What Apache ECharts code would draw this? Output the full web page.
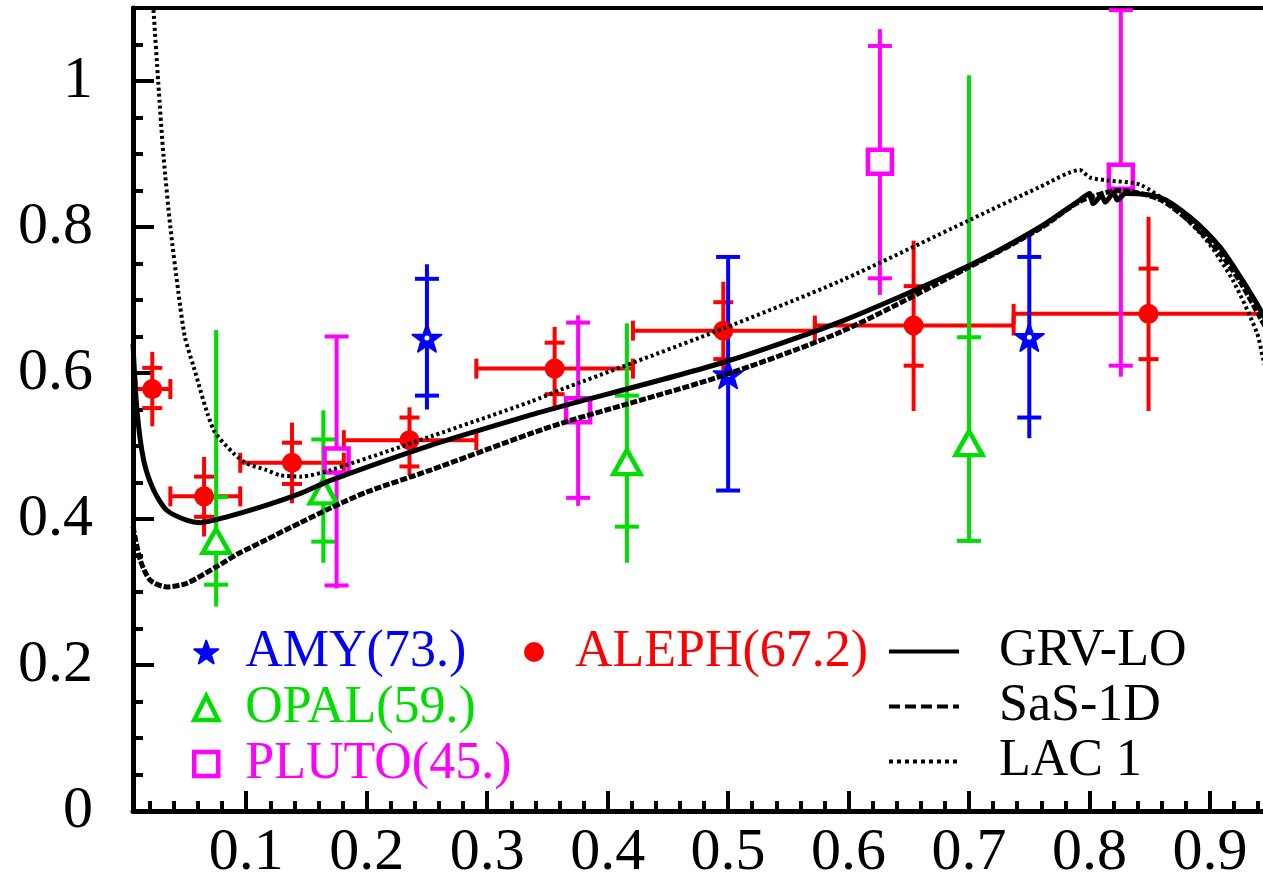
<!DOCTYPE html>
<html><head><meta charset="utf-8">
<script src="https://cdn.jsdelivr.net/npm/echarts@6/dist/echarts.min.js"></script>
<style>html,body{margin:0;padding:0;background:#fff}#c{width:1263px;height:893px}</style>
</head><body><div id="c"></div>
<script>
// ---------- tick labels ----------
const xMajorTicks = [0.1,0.2,0.3,0.4,0.5,0.6,0.7,0.8,0.9];
const xMinorTicks = [0.02,0.04,0.06,0.08,0.12,0.14,0.16,0.18,0.22,0.24,0.26,0.28,0.32,0.34,0.36,0.38,0.42,0.44,0.46,0.48,0.52,0.54,0.56,0.58,0.62,0.64,0.66,0.68,0.72,0.74,0.76,0.78,0.82,0.84,0.86,0.88,0.92,0.94];
const yMajorTicks = [0,0.2,0.4,0.6,0.8,1];
const yTickLabels = ['0','0.2','0.4','0.6','0.8','1'];
const yMinorTicks = [0.05,0.1,0.15,0.25,0.3,0.35,0.45,0.5,0.55,0.65,0.7,0.75,0.85,0.9,0.95,1.05];

// ---------- ALEPH(67.2) ----------
const alephX    = [0.022,0.065,0.138,0.2355,0.356,0.496,0.654,0.849];
const alephY    = [0.578,0.431,0.477,0.508,0.606,0.658,0.665,0.681];
const alephXLo  = [0.008,0.037,0.095,0.181,0.291,0.421,0.572,0.737];
const alephXHi  = [0.037,0.095,0.181,0.291,0.421,0.572,0.737,0.96];
const alephStatLo = [0.552,0.403,0.448,0.472,0.571,0.619,0.610,0.619];
const alephStatHi = [0.607,0.458,0.5045,0.539,0.6415,0.697,0.719,0.743];
const alephTotLo  = [0.527,0.376,0.4215,0.460,0.554,0.591,0.548,0.548];
const alephTotHi  = [0.629,0.485,0.532,0.553,0.663,0.725,0.781,0.814];

// ---------- AMY(73.) ----------
const amyX = [0.25,0.50,0.75];
const amyY = [0.648,0.598,0.649];
const amyStatLo = [0.569,0.439,0.539];
const amyStatHi = [0.729,0.759,0.759];
const amyTotLo  = [0.550,0.439,0.5105];
const amyTotHi  = [0.749,0.759,0.788];

// ---------- OPAL(59.) ----------
const opalX = [0.075,0.164,0.416,0.70];
const opalY = [0.370,0.438,0.478,0.504];
const opalStatLo = [0.310,0.369,0.3895,0.370];
const opalStatHi = [0.430,0.509,0.569,0.649];
const opalTotLo  = [0.280,0.340,0.340,0.370];
const opalTotHi  = [0.659,0.549,0.668,1.008];

// ---------- PLUTO(45.) ----------
const plutoX = [0.175,0.3755,0.626,0.826];
const plutoY = [0.480,0.549,0.8895,0.869];
const plutoStatLo = [0.309,0.429,0.7297,0.610];
const plutoStatHi = [0.650,0.669,1.048,1.097];
const plutoTotLo  = [0.305,0.418,0.707,0.595];
const plutoTotHi  = [0.651,0.679,1.071,1.097];

// ---------- curves ----------
const grvX = [0.006,0.0093,0.0148,0.023,0.034,0.051,0.062,0.084,0.117,0.145,0.17,0.253,0.336,0.361,0.493,0.593,0.701,0.759,0.792,0.800,0.803,0.810,0.813,0.820,0.823,0.830,0.858,0.883,0.908,0.925,0.942,0.96];
const grvY = [0.64,0.549,0.481,0.44,0.412,0.398,0.395,0.403,0.419,0.435,0.453,0.501,0.5425,0.554,0.613,0.67,0.748,0.80,0.837,0.846,0.832,0.843,0.834,0.847,0.837,0.846,0.841,0.814,0.773,0.732,0.686,0.63];
const sasX = [0.006,0.012,0.0203,0.034,0.0508,0.0757,0.093,0.117,0.145,0.17,0.2,0.253,0.336,0.369,0.493,0.593,0.70,0.759,0.792,0.825,0.858,0.883,0.908,0.925,0.942,0.96];
const sasY = [0.39,0.344,0.316,0.307,0.312,0.335,0.352,0.372,0.395,0.415,0.437,0.467,0.517,0.535,0.595,0.656,0.745,0.798,0.835,0.85,0.838,0.808,0.765,0.725,0.675,0.62];
const lacX = [0.0215,0.023,0.027,0.0314,0.037,0.0438,0.049,0.0563,0.0729,0.0895,0.1006,0.117,0.128,0.145,0.17,0.253,0.336,0.361,0.493,0.593,0.701,0.759,0.792,0.800,0.814,0.842,0.869,0.897,0.919,0.939,0.944,0.96];
const lacY = [1.13,1.097,0.997,0.896,0.80,0.709,0.65,0.6087,0.522,0.49,0.476,0.467,0.46,0.458,0.467,0.513,0.5607,0.577,0.659,0.726,0.81,0.855,0.878,0.868,0.864,0.858,0.828,0.782,0.727,0.655,0.62,0.52];

// ---------- styling ----------
const FONT = "'Liberation Serif','Times New Roman',serif";
const RED='#ff0000', BLUE='#0000ff', GREEN='#00dd00', MAG='#ff00ff';
const STAR = 'path://M50,0L61.76,33.82L97.55,34.55L69.02,56.18L79.39,90.45L50,70L20.61,90.45L30.98,56.18L2.45,34.55L38.24,33.82Z';

function zip(xs, ys){ return xs.map((x,i)=>[x, ys[i]]); }

function errSeries(name, color, xs, ys, sLo, sHi, tLo, tHi, xLo, xHi, o){
  const data = xs.map((x,i)=>[x, ys[i], sLo[i], sHi[i], tLo[i], tHi[i], xLo?xLo[i]:x, xHi?xHi[i]:x]);
  return {
    type:'custom', name:name, clip:true, z:2, silent:true,
    encode:{x:0, y:1},
    data:data,
    renderItem:function(params, api){
      const x = api.value(0), y = api.value(1);
      const p = api.coord([x,y]);
      const sl = api.coord([x, api.value(2)]), sh = api.coord([x, api.value(3)]);
      const tl = api.coord([x, api.value(4)]), th = api.coord([x, api.value(5)]);
      const st = {stroke:color, lineWidth:o.lw, fill:null};
      const ch = [];
      const L = (x1,y1,x2,y2)=>ch.push({type:'line', shape:{x1,y1,x2,y2}, style:st});
      if (o.gap > 0){
        if (th[1] < p[1]-o.gap) L(p[0], th[1], p[0], p[1]-o.gap);
        if (tl[1] > p[1]+o.gap) L(p[0], p[1]+o.gap, p[0], tl[1]);
      } else {
        L(p[0], th[1], p[0], tl[1]);
      }
      L(p[0]-o.cw, sl[1], p[0]+o.cw, sl[1]);
      L(p[0]-o.cw, sh[1], p[0]+o.cw, sh[1]);
      if (o.horiz){
        const l = api.coord([api.value(6), y]), r = api.coord([api.value(7), y]);
        L(l[0], p[1], r[0], p[1]);
        L(l[0], p[1]-o.ch, l[0], p[1]+o.ch);
        L(r[0], p[1]-o.ch, r[0], p[1]+o.ch);
      }
      return {type:'group', children:ch};
    }
  };
}

const chart = echarts.init(document.getElementById('c'), null, {renderer:'canvas'});
const XMIN = 0.006, XMAX = 0.944;
const hidden = {color:'rgba(0,0,0,0)', borderColor:'rgba(0,0,0,0)', borderWidth:0, opacity:0};

const option = {
  animation:false,
  backgroundColor:'#fff',
  grid:{left:133, top:8, right:0, bottom:82, containLabel:false},
  xAxis:[
    {type:'value', min:XMIN, max:XMAX, position:'bottom',
     axisLine:{show:true, lineStyle:{color:'#000', width:5}},
     axisTick:{show:true, inside:true, length:20, lineStyle:{color:'#000', width:4}, customValues:xMajorTicks},
     axisLabel:{show:true, customValues:xMajorTicks, margin:12, fontSize:60, fontFamily:FONT, color:'#000',
                formatter:(v)=>v.toFixed(1)},
     splitLine:{show:false}},
    {type:'value', min:XMIN, max:XMAX, position:'bottom',
     axisLine:{show:false},
     axisTick:{show:true, inside:true, length:10, lineStyle:{color:'#000', width:4}, customValues:xMinorTicks},
     axisLabel:{show:false}, splitLine:{show:false}},
    {type:'value', min:XMIN, max:XMAX, position:'top',
     axisLine:{show:true, lineStyle:{color:'#000', width:4}},
     axisTick:{show:false}, axisLabel:{show:false}, splitLine:{show:false}}
  ],
  yAxis:[
    {type:'value', min:0, max:1.1, position:'left',
     axisLine:{show:true, lineStyle:{color:'#000', width:5}},
     axisTick:{show:true, inside:true, length:21, lineStyle:{color:'#000', width:4}, customValues:yMajorTicks},
     axisLabel:{show:true, customValues:yMajorTicks, margin:40, fontSize:60, fontFamily:FONT, color:'#000',
                formatter:(v)=>{const i=yMajorTicks.indexOf(v); return i>=0?yTickLabels[i]:String(v);}},
     splitLine:{show:false}},
    {type:'value', min:0, max:1.1, position:'left',
     axisLine:{show:false},
     axisTick:{show:true, inside:true, length:10, lineStyle:{color:'#000', width:4}, customValues:yMinorTicks},
     axisLabel:{show:false}, splitLine:{show:false}}
  ],
  legend:[
    {orient:'vertical', left:192, top:624, padding:0, itemGap:0, itemWidth:24, itemHeight:24, selectedMode:false,
     textStyle:{fontSize:52, lineHeight:56, fontFamily:FONT, padding:[0,0,0,22]},
     data:[{name:'AMY(73.)', textStyle:{color:BLUE}},
           {name:'OPAL(59.)', textStyle:{color:GREEN}, itemStyle:{color:'rgba(255,255,255,0)', borderColor:GREEN, borderWidth:4.5}},
           {name:'PLUTO(45.)', textStyle:{color:MAG}, itemStyle:{color:'rgba(255,255,255,0)', borderColor:MAG, borderWidth:4.5}}]},
    {orient:'vertical', left:524, top:624, padding:0, itemGap:0, itemWidth:20, itemHeight:20, selectedMode:false,
     textStyle:{fontSize:52, lineHeight:56, fontFamily:FONT, padding:[0,0,0,26]},
     data:[{name:'ALEPH(67.2)', textStyle:{color:RED}}]},
    {orient:'vertical', left:887, top:624, padding:0, itemGap:0, itemWidth:70, itemHeight:14, selectedMode:false,
     textStyle:{fontSize:52, lineHeight:55, fontFamily:FONT, color:'#000', padding:[0,0,0,35]},
     data:[{name:'GRV-LO', lineStyle:{type:'solid', width:4}, itemStyle:hidden},
           {name:'SaS-1D', lineStyle:{type:[11,5], width:4}, itemStyle:hidden},
           {name:'LAC 1', lineStyle:{type:[4,4], width:4}, itemStyle:hidden}]}
  ],
  series:[
    errSeries('ALEPH-err', RED, alephX, alephY, alephStatLo, alephStatHi, alephTotLo, alephTotHi, alephXLo, alephXHi, {lw:4, gap:0, cw:10, ch:10, horiz:true}),
    errSeries('AMY-err', BLUE, amyX, amyY, amyStatLo, amyStatHi, amyTotLo, amyTotHi, null, null, {lw:4, gap:0, cw:12, horiz:false}),
    errSeries('OPAL-err', GREEN, opalX, opalY, opalStatLo, opalStatHi, opalTotLo, opalTotHi, null, null, {lw:4, gap:13, cw:12, horiz:false}),
    errSeries('PLUTO-err', MAG, plutoX, plutoY, plutoStatLo, plutoStatHi, plutoTotLo, plutoTotHi, null, null, {lw:4, gap:13, cw:12, horiz:false}),
    {type:'scatter', name:'AMY(73.)', z:3, data:zip(amyX, amyY), symbol:STAR, symbolSize:29, symbolKeepAspect:true,
     itemStyle:{color:BLUE, borderColor:BLUE, borderWidth:2, borderJoin:'round', opacity:1}},
    {type:'scatter', name:'AMY-centre', z:3, data:zip(amyX, amyY), symbol:'circle', symbolSize:5, silent:true,
     itemStyle:{color:'#fff', opacity:1}},
    {type:'scatter', name:'OPAL(59.)', z:3, data:zip(opalX, opalY), symbol:'triangle', symbolSize:[27,24],
     itemStyle:{color:'rgba(255,255,255,0)', borderColor:GREEN, borderWidth:4.5, opacity:1}},
    {type:'scatter', name:'PLUTO(45.)', z:3, data:zip(plutoX, plutoY), symbol:'rect', symbolSize:24,
     itemStyle:{color:'rgba(255,255,255,0)', borderColor:MAG, borderWidth:4.5, opacity:1}},
    {type:'scatter', name:'ALEPH(67.2)', z:3, data:zip(alephX, alephY), symbol:'circle', symbolSize:20,
     itemStyle:{color:RED, opacity:1}},
    {type:'line', name:'GRV-LO', z:4, data:zip(grvX, grvY), symbol:'none', showSymbol:false, clip:true, silent:true, smooth:0.25,
     itemStyle:{color:'#000'}, lineStyle:{color:'#000', width:5, type:'solid'}},
    {type:'line', name:'SaS-1D', z:4, data:zip(sasX, sasY), symbol:'none', showSymbol:false, clip:true, silent:true, smooth:0.25,
     itemStyle:{color:'#000'}, lineStyle:{color:'#000', width:5, type:[7,2]}},
    {type:'line', name:'LAC 1', z:4, data:zip(lacX, lacY), symbol:'none', showSymbol:false, clip:true, silent:true, smooth:0.25,
     itemStyle:{color:'#000'}, lineStyle:{color:'#000', width:4, type:[3,3]}}
  ]
};
chart.setOption(option);
</script>
</body></html>
